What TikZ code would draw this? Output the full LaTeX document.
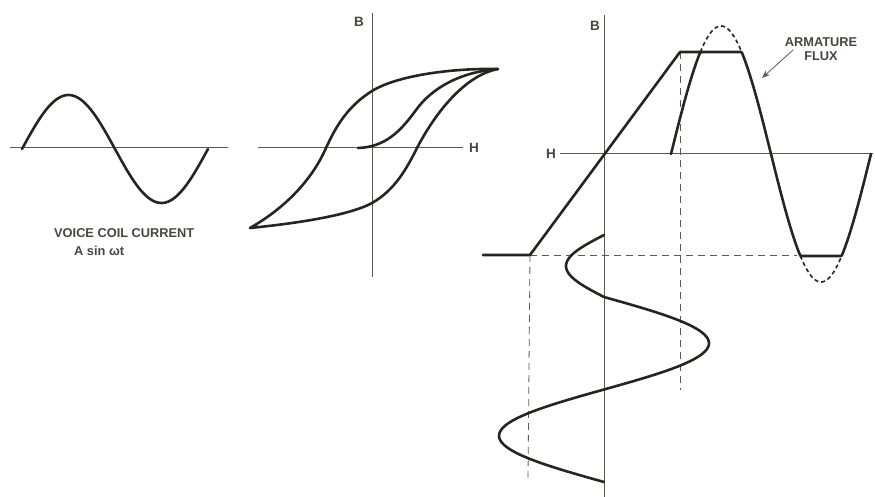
\documentclass[tikz,border=0pt]{standalone}
\usepackage{fontspec}
\setmainfont{Liberation Sans}
\usepackage{xcolor}
\usetikzlibrary{arrows.meta}
\definecolor{inkcol}{RGB}{38,38,30}
\definecolor{axiscol}{RGB}{90,90,80}
\definecolor{lettercol}{RGB}{70,70,62}
\tikzset{
    % Curve styles
    curve/.style={draw=inkcol, line width=2.6pt, line cap=round, line join=round},
    clipped part/.style={draw=inkcol, line width=1.6pt, dash pattern=on 4pt off 3pt},
    % Axis styles
    axis/.style={draw=axiscol, line width=1pt},
    guide/.style={draw=axiscol, line width=0.8pt, dash pattern=on 7pt off 5pt},
    % Text styles
    lettering/.style={font=\fontsize{12.8}{14}\selectfont\bfseries, text=lettercol, inner sep=0pt},
    axis label/.style={lettering, font=\fontsize{13.5}{14}\selectfont\bfseries},
    pointer/.style={-{Stealth[length=8pt, width=6pt]}, draw=axiscol, line width=0.8pt},
}

\begin{document}
\begin{tikzpicture}[x=1pt, y=-1pt]
    \useasboundingbox (0,0) rectangle (875,497);

    % Voice coil current
    \draw[axis] (10,148) -- (228,148);
    \draw[curve] plot[domain=22:208, samples=90] (\x, {149-54*sin(1.9355*(\x-22))});
    \node[lettering, anchor=west] (coiltext) at (54,233) {VOICE COIL CURRENT};
    \node[lettering, anchor=west] (coileq) at (74,251) {A sin ωt};

    % Hysteresis loop
    \draw[axis] (372,13) -- (372,277);
    \draw[axis] (258,148) -- (463,148);
    \node[axis label] (bmid) at (359,22) {B};
    \node[axis label] (hmid) at (474,148) {H};
    \draw[curve] (250,228) .. controls (285,208) and (312,180) .. (326,148)
        .. controls (336,126) and (348,106) .. (372,91)
        .. controls (396,76) and (450,68) .. (498,69)
        .. controls (470,74) and (440,104) .. (417,148)
        .. controls (407,168) and (395,190) .. (372,203)
        .. controls (350,215) and (300,223) .. (250,228);
    \draw[curve] (358,148) .. controls (385,147) and (400,132) .. (416,110)
        .. controls (432,88) and (460,72) .. (498,69);

    % Saturating armature
    \draw[axis] (604,15) -- (604,497);
    \draw[axis] (560,154) -- (873,154);
    \node[axis label] (bright) at (595,26) {B};
    \node[axis label] (hright) at (551,154) {H};
    \draw[guide] (530,255) -- (797,255);
    \draw[guide] (530,255) -- (528,478);
    \draw[guide] (680,52) -- (680,390);
    \draw[curve] (483,255) -- (530,255) -- (680,52) -- (702,52);

    % Armature flux, clipped
    \draw[curve] plot[domain=671:871, samples=201]
        (\x, {154-max(-102,min(102,128*sin(1.8*(\x-671))))});
    \draw[clipped part] plot[domain=700.3:741.7, samples=30] (\x, {154-128*sin(1.8*(\x-671))});
    \draw[clipped part] plot[domain=800.3:841.7, samples=30] (\x, {154-128*sin(1.8*(\x-671))});

    % Field from the coil, time running down
    \draw[curve] plot[domain=235:297, samples=40] ({604-38*sin(2.9032*(\x-235))}, \x)
        -- plot[domain=297:482, samples=90] ({604+105*sin(1.9459*(\x-297))}, \x);

    % Label
    \node[lettering, align=center] (fluxlbl) at (821,49) {ARMATURE\\FLUX};
    \coordinate (fluxtail) at (793,50);
    \coordinate (fluxpt) at (762,78);
    \draw[pointer] (fluxtail) -- (fluxpt);
\end{tikzpicture}
\end{document}
